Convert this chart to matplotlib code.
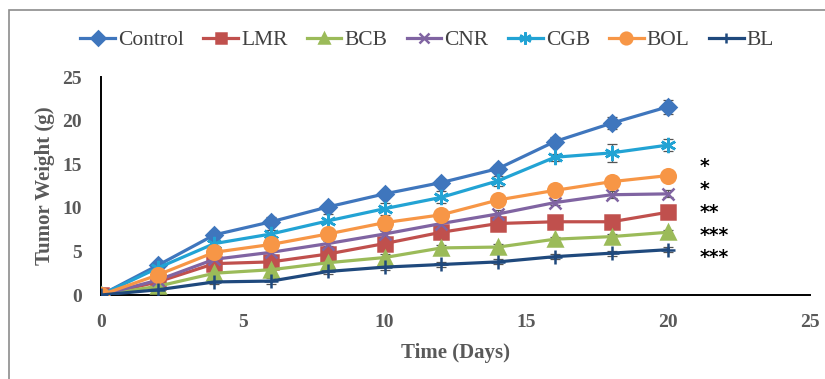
import matplotlib.pyplot as plt
import matplotlib.patches as patches

plt.rcParams['font.family'] = ['Liberation Serif', 'DejaVu Serif']

# Data
days = [0, 2, 4, 6, 8, 10, 12, 14, 16, 18, 20]
control = [0, 3.4, 6.9, 8.4, 10.1, 11.6, 12.9, 14.5, 17.6, 19.7, 21.6]
lmr = [0, 1.5, 3.6, 3.8, 4.7, 5.9, 7.2, 8.2, 8.4, 8.4, 9.5]
bcb = [0, 1.0, 2.5, 2.9, 3.7, 4.3, 5.4, 5.5, 6.4, 6.7, 7.2]
cnr = [0, 1.7, 4.1, 4.9, 5.9, 7.0, 8.2, 9.3, 10.6, 11.5, 11.6]
cgb = [0, 3.1, 5.9, 7.0, 8.5, 9.9, 11.2, 13.1, 15.8, 16.3, 17.2]
bol = [0, 2.3, 4.9, 5.8, 7.0, 8.3, 9.2, 10.9, 12.0, 13.0, 13.7]
bl = [0, 0.6, 1.5, 1.6, 2.7, 3.2, 3.5, 3.8, 4.4, 4.8, 5.2]

err_control = [0, 0.3, 0.4, 0.5, 0.3, 0.3, 0.4, 0.4, 0.5, 0.7, 0.8]
err_lmr = [0, 0.2, 0.3, 0.4, 0.4, 0.5, 0.4, 0.3, 0.3, 0.7, 0.3]
err_bcb = [0, 0.2, 0.3, 0.3, 0.3, 0.4, 0.3, 0.3, 0.3, 0.3, 0.3]
err_cnr = [0, 0.2, 0.3, 0.3, 0.3, 0.3, 0.3, 0.4, 0.3, 0.4, 0.4]
err_cgb = [0, 0.3, 0.4, 0.4, 0.8, 0.7, 0.7, 0.6, 0.4, 1.0, 0.7]
err_bol = [0, 0.2, 0.3, 0.4, 0.3, 0.3, 0.3, 0.3, 0.3, 0.3, 0.3]
err_bl = [0, 0.2, 0.2, 0.3, 0.3, 0.3, 0.3, 0.3, 0.3, 0.3, 0.3]

stars = ['*', '*', '**', '***', '***']
star_y = [15.2, 12.6, 10.0, 7.3, 4.8]

series = [
    ('Control', control, err_control, '#3F76BD', 'D', 8.5),
    ('LMR', lmr, err_lmr, '#C0504D', 's', 9.5),
    ('BCB', bcb, err_bcb, '#9BBB59', '^', 9.5),
    ('CNR', cnr, err_cnr, '#8064A2', 'x', 9),
    ('CGB', cgb, err_cgb, '#22A3D4', (6, 2, 0), 11),
    ('BOL', bol, err_bol, '#F79646', 'o', 10.5),
    ('BL', bl, err_bl, '#1F497D', '+', 9.5),
]

fig = plt.figure(figsize=(8.25, 3.79), dpi=100)
ax = fig.add_axes([0.1224, 0.2216, 0.8596, 0.5752])

for name, vals, err, color, marker, ms in series:
    ax.errorbar(days, vals, yerr=err, fmt='none', ecolor='#555555',
                elinewidth=0.9, capsize=3.5, capthick=0.9, zorder=2)
    ax.plot(days, vals, color=color, lw=2.3, marker=marker, ms=ms,
            mew=1.8, mec=color, mfc=color, label=name, zorder=3)

for s, y in zip(stars, star_y):
    ax.text(21.1, y - 0.5, s, fontsize=13.5, fontweight='bold', color='black',
            va='center', ha='left', fontfamily='DejaVu Sans')

ax.set_xlim(0, 25)
ax.set_ylim(0, 25)
ax.set_xticks([0, 5, 10, 15, 20, 25])
ax.set_yticks([0, 5, 10, 15, 20, 25])
ax.tick_params(length=0, labelsize=14, labelcolor='#595959')
ax.tick_params(axis='x', pad=14)
ax.tick_params(axis='y', pad=14)
for lab in ax.get_xticklabels() + ax.get_yticklabels():
    lab.set_fontweight('bold')

for sp in ['top', 'right']:
    ax.spines[sp].set_visible(False)
for sp in ['left', 'bottom']:
    ax.spines[sp].set_linewidth(1.4)
    ax.spines[sp].set_color('black')

ax.set_xlabel('Time (Days)', fontsize=15, fontweight='bold', color='#595959', labelpad=8)
ax.set_ylabel('Tumor Weight (g)', fontsize=15, fontweight='bold', color='#595959', labelpad=5)

handles, labels = ax.get_legend_handles_labels()
fig.legend(handles, labels, loc='center', bbox_to_anchor=(0.518, 0.894), ncol=7,
           frameon=False, fontsize=15.5, handlelength=1.6, handletextpad=0.15,
           columnspacing=0.9, labelcolor='#404040', markerscale=0.8)

frame = patches.Rectangle((0.011, -0.05), 1.2, 1.024, transform=fig.transFigure,
                          fill=False, edgecolor='#8C8C8C', lw=1.2)
fig.patches.append(frame)

fig.savefig('out.png', dpi=100)
